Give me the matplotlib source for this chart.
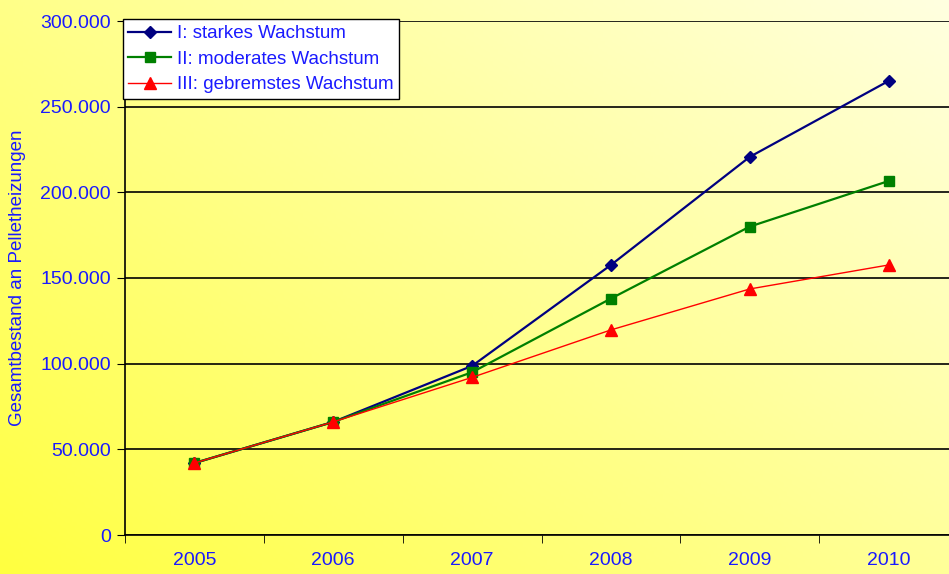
import numpy as np
import matplotlib.pyplot as plt
from matplotlib.colors import LinearSegmentedColormap
from matplotlib.ticker import FuncFormatter, FixedLocator

plt.rcParams['font.family'] = ['Liberation Sans', 'DejaVu Sans']

jahre = ['2005', '2006', '2007', '2008', '2009', '2010']
starkes = [42000, 66000, 98700, 157600, 220700, 265000]
moderates = [42000, 66000, 95000, 138000, 180000, 206600]
gebremstes = [42000, 66000, 92000, 119700, 143600, 157600]

blau = '#1a1aff'

fig = plt.figure(figsize=(9.49, 5.74), dpi=100)

# gradient background
bg = fig.add_axes([0, 0, 1, 1])
cmap = LinearSegmentedColormap.from_list('gelb', ['#ffff40', '#ffff90', '#ffffe0'])
xx, yy = np.meshgrid(np.linspace(0, 1, 200), np.linspace(0, 1, 200))
bg.imshow((xx * 0.55 + yy * 0.45), cmap=cmap, origin='lower',
          extent=[0, 1, 0, 1], aspect='auto')
bg.axis('off')

ax = fig.add_axes([125 / 949, 1 - 535 / 574, (958 - 125) / 949, (535 - 21) / 574])
ax.patch.set_alpha(0)

x = np.arange(len(jahre))
ax.plot(x, starkes, color='#000080', marker='D', markersize=6, lw=1.6,
        label='I: starkes Wachstum', zorder=3)
ax.plot(x, moderates, color='#008000', marker='s', markersize=7, lw=1.6,
        label='II: moderates Wachstum', zorder=4)
ax.plot(x, gebremstes, color='#ff0000', marker='^', markersize=8, lw=1,
        label='III: gebremstes Wachstum', zorder=5)

ax.set_xlim(-0.5, 5.5)
ax.set_ylim(0, 300000)
ax.set_yticks(np.arange(0, 300001, 50000))
ax.yaxis.set_major_formatter(FuncFormatter(
    lambda v, p: '0' if v == 0 else f'{int(v):,}'.replace(',', '.')))
ax.grid(axis='y', color='black', lw=1.2)
ax.set_axisbelow(True)

ax.set_xticks(x)
ax.set_xticklabels(jahre)
ax.xaxis.set_minor_locator(FixedLocator(np.arange(-0.5, 6, 1)))
ax.tick_params(axis='x', which='major', length=0, pad=12, labelsize=14, labelcolor=blau)
ax.tick_params(axis='x', which='minor', length=6, direction='out', color='black')
ax.tick_params(axis='y', length=6, direction='out', pad=4, labelsize=14, labelcolor=blau)

for s in ['top', 'right']:
    ax.spines[s].set_visible(False)
for s in ['left', 'bottom']:
    ax.spines[s].set_color('black')
    ax.spines[s].set_linewidth(1.2)

fig.text(18 / 949, 1 - 278 / 574, 'Gesamtbestand an Pelletheizungen', rotation=90,
         color=blau, fontsize=13.5, ha='center', va='center')

leg = ax.legend(loc='upper left', bbox_to_anchor=(-0.003, 1.003), fontsize=13.5,
                fancybox=False, edgecolor='black', framealpha=1, borderpad=0.3,
                labelspacing=0.45, handlelength=2.3, handletextpad=0.3, borderaxespad=0)
leg.get_frame().set_linewidth(1)
for t in leg.get_texts():
    t.set_color(blau)

fig.savefig('out.png', dpi=100)
